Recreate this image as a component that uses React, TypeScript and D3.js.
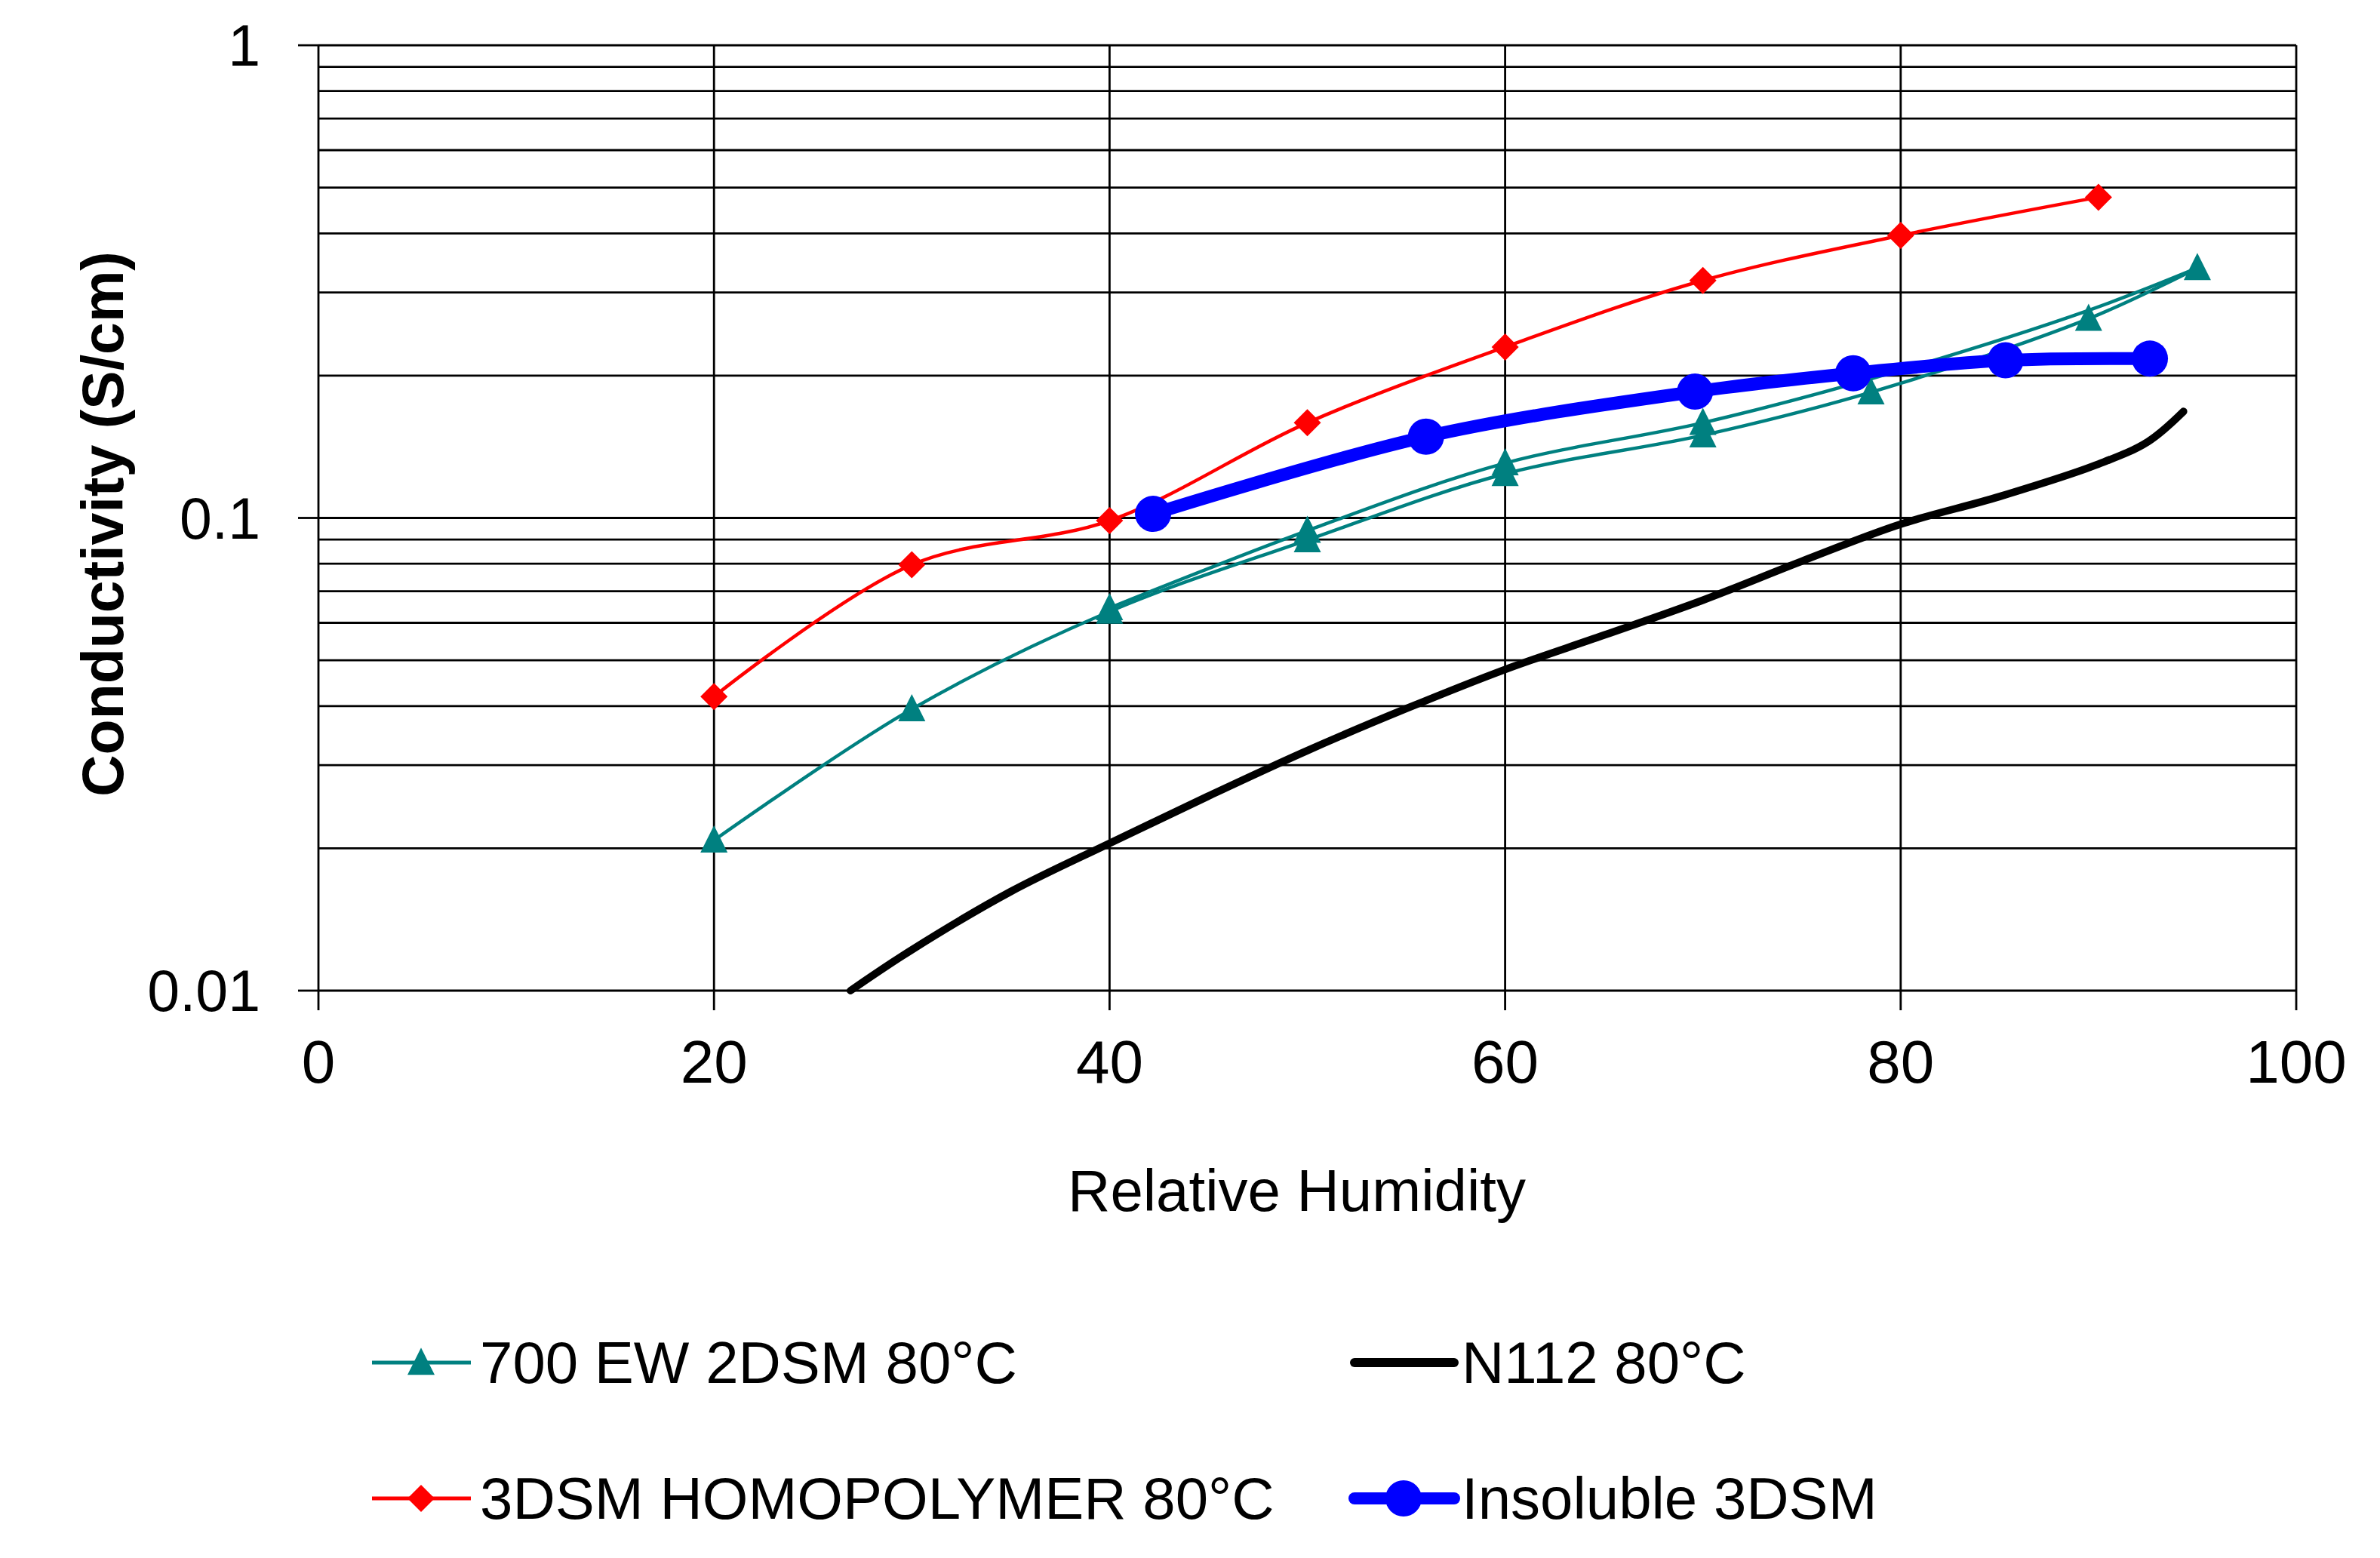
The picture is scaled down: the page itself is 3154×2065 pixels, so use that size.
import React from "react";
import * as d3 from "d3";

const W = 3154;
const H = 2065;

// Data
const tealUpRH = [20, 30, 40, 50, 60, 70, 78.5, 89.5, 95];
const tealUpVal = [0.0208, 0.0394, 0.0634, 0.0898, 0.124, 0.1496, 0.1845, 0.264, 0.338];
const tealDownRH = [95, 89.5, 78.5, 70, 60, 50, 40];
const tealDownVal = [0.338, 0.275, 0.197, 0.159, 0.1306, 0.094, 0.0645];
const tealDownMarked = [false, false, false, true, true, true, true];

const redRH = [20, 30, 40, 50, 60, 70, 80, 90];
const redVal = [0.0419, 0.0796, 0.0987, 0.159, 0.23, 0.318, 0.396, 0.477];

const blackRH = [26.9, 30, 35, 40, 45, 50, 55, 60, 65, 70, 75, 80, 85, 90, 92.5, 94.3];
const blackVal = [0.01, 0.0122, 0.0162, 0.0205, 0.0258, 0.0322, 0.0395, 0.0478, 0.0565, 0.067, 0.081, 0.097, 0.111, 0.13, 0.145, 0.168];

const blueRH = [42.2, 56.0, 69.6, 77.6, 85.3, 92.6];
const blueVal = [0.102, 0.1486, 0.185, 0.2023, 0.2155, 0.2173];

const xTicks = [0, 20, 40, 60, 80, 100];
const yTicks = [0.01, 0.1, 1];
const yTickLabels = ["0.01", "0.1", "1"];

const legendLabels = ["700 EW 2DSM 80°C", "N112 80°C", "3DSM HOMOPOLYMER 80°C", "Insoluble 3DSM"];

const FONT = "'Liberation Sans', Arial, sans-serif";
const TEAL = "#008080";
const RED = "#FF0000";
const BLUE = "#0000FF";

const left = 422, right = 3043, top = 60, bottom = 1313;

const x = d3.scaleLinear().domain([0, 100]).range([left, right]);
const y = d3.scaleLog().domain([0.01, 1]).range([bottom, top]);

const line = d3
  .line<[number, number]>()
  .x((d) => x(d[0]))
  .y((d) => y(d[1]))
  .curve(d3.curveCatmullRom.alpha(0.5));

const zip = (a: number[], b: number[]) => a.map((v, i) => [v, b[i]] as [number, number]);

const tri = (cx: number, cy: number, s = 36) =>
  `M${cx},${cy - s * 0.55}L${cx + s / 2},${cy + s * 0.45}L${cx - s / 2},${cy + s * 0.45}Z`;
const diamond = (cx: number, cy: number, r = 18) =>
  `M${cx},${cy - r}L${cx + r},${cy}L${cx},${cy + r}L${cx - r},${cy}Z`;

export default function App() {
  const grid = y.ticks();
  const tealUp = zip(tealUpRH, tealUpVal);
  const tealDown = zip(tealDownRH, tealDownVal);
  const red = zip(redRH, redVal);
  const black = zip(blackRH, blackVal);
  const blue = zip(blueRH, blueVal);

  const legRow1 = 1806;
  const legRow2 = 1986;

  return (
    <svg
      width={W}
      height={H}
      style={{ position: "absolute", left: 0, top: 0, background: "#fff" }}
      fontFamily={FONT}
    >
      <rect x={0} y={0} width={W} height={H} fill="#fff" />
      {/* horizontal gridlines */}
      {grid.map((g, i) => (
        <line key={"h" + i} x1={left} x2={right} y1={y(g)} y2={y(g)} stroke="#000" strokeWidth={2.8} />
      ))}
      {/* vertical gridlines + ticks */}
      {xTicks.map((t) => (
        <line key={"v" + t} x1={x(t)} x2={x(t)} y1={top} y2={bottom + 26} stroke="#000" strokeWidth={2.8} />
      ))}
      {/* y major ticks */}
      {yTicks.map((t) => (
        <line key={"yt" + t} x1={left - 27} x2={left} y1={y(t)} y2={y(t)} stroke="#000" strokeWidth={2.8} />
      ))}
      {/* y tick labels */}
      {yTicks.map((t, i) => (
        <text key={"yl" + t} x={345} y={y(t)} fontSize={77} textAnchor="end" dominantBaseline="central">
          {yTickLabels[i]}
        </text>
      ))}
      {/* x tick labels */}
      {xTicks.map((t) => (
        <text key={"xl" + t} x={x(t)} y={1435} fontSize={80} textAnchor="middle">
          {t}
        </text>
      ))}
      {/* axis titles */}
      <text
        transform={`translate(136, ${(top + bottom) / 2 + 8}) rotate(-90)`}
        fontSize={77}
        fontWeight="bold"
        textAnchor="middle"
        dominantBaseline="central"
      >
        Conductivity (S/cm)
      </text>
      <text x={(left + right) / 2 - 14} y={1605} fontSize={78} textAnchor="middle">
        Relative Humidity
      </text>

      {/* series */}
      <path d={line(tealUp) || ""} fill="none" stroke={TEAL} strokeWidth={4.5} />
      <path d={line(tealDown) || ""} fill="none" stroke={TEAL} strokeWidth={4.5} />
      {tealUp.map((d, i) => (
        <path key={"tu" + i} d={tri(x(d[0]), y(d[1]))} fill={TEAL} />
      ))}
      {tealDown.map((d, i) =>
        tealDownMarked[i] ? <path key={"td" + i} d={tri(x(d[0]), y(d[1]))} fill={TEAL} /> : null
      )}

      <path d={line(red) || ""} fill="none" stroke={RED} strokeWidth={4.5} />
      {red.map((d, i) => (
        <path key={"r" + i} d={diamond(x(d[0]), y(d[1]))} fill={RED} />
      ))}

      <path d={line(black) || ""} fill="none" stroke="#000" strokeWidth={10} strokeLinecap="round" />

      <path d={line(blue) || ""} fill="none" stroke={BLUE} strokeWidth={17} strokeLinejoin="round" />
      {blue.map((d, i) => (
        <circle key={"b" + i} cx={x(d[0])} cy={y(d[1])} r={24} fill={BLUE} />
      ))}

      {/* legend */}
      <g>
        <line x1={493} x2={624} y1={legRow1} y2={legRow1} stroke={TEAL} strokeWidth={5} />
        <path d={tri(558, legRow1, 36)} fill={TEAL} />
        <text x={636} y={legRow1} fontSize={78} dominantBaseline="central">{legendLabels[0]}</text>

        <line x1={1795} x2={1927} y1={legRow1} y2={legRow1} stroke="#000" strokeWidth={12} strokeLinecap="round" />
        <text x={1937} y={legRow1} fontSize={78} dominantBaseline="central">{legendLabels[1]}</text>

        <line x1={493} x2={624} y1={legRow2} y2={legRow2} stroke={RED} strokeWidth={5} />
        <path d={diamond(558, legRow2, 18)} fill={RED} />
        <text x={636} y={legRow2} fontSize={78} dominantBaseline="central">{legendLabels[2]}</text>

        <line x1={1795} x2={1927} y1={legRow2} y2={legRow2} stroke={BLUE} strokeWidth={16} strokeLinecap="round" />
        <circle cx={1860} cy={legRow2} r={24} fill={BLUE} />
        <text x={1937} y={legRow2} fontSize={78} dominantBaseline="central">{legendLabels[3]}</text>
      </g>
    </svg>
  );
}
